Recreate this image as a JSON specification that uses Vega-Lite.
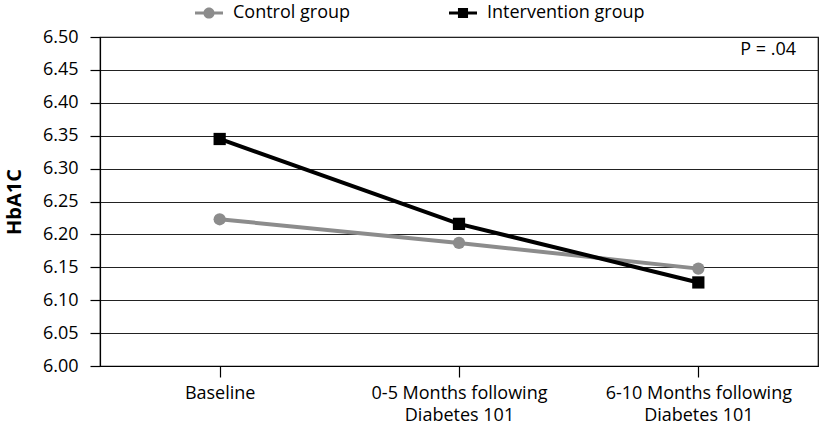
{
  "$schema": "https://vega.github.io/schema/vega-lite/v6.json",
  "autosize": "none",
  "width": 718,
  "height": 329,
  "padding": {"left": 100, "top": 37, "right": 4, "bottom": 60},
  "config": {
    "font": "Open Sans",
    "view": {"stroke": "#000000", "strokeWidth": 1.2},
    "axis": {"labelFont": "Open Sans", "titleFont": "Open Sans", "labelColor": "#000000", "titleColor": "#000000", "domainColor": "#000000", "tickColor": "#000000"}
  },
  "data": {
    "values": [
      {"period": "Baseline", "group": "Control group", "hba1c": 6.223},
      {"period": "0-5 Months following Diabetes 101", "group": "Control group", "hba1c": 6.187},
      {"period": "6-10 Months following Diabetes 101", "group": "Control group", "hba1c": 6.148},
      {"period": "Baseline", "group": "Intervention group", "hba1c": 6.345},
      {"period": "0-5 Months following Diabetes 101", "group": "Intervention group", "hba1c": 6.216},
      {"period": "6-10 Months following Diabetes 101", "group": "Intervention group", "hba1c": 6.127}
    ]
  },
  "encoding": {
    "x": {
      "field": "period", "type": "ordinal",
      "sort": ["Baseline", "0-5 Months following Diabetes 101", "6-10 Months following Diabetes 101"],
      "scale": {"type": "point", "padding": 0.5},
      "axis": {
        "title": null, "labelAngle": 0, "labelFontSize": 18, "labelPadding": 7, "labelLineHeight": 22, "labelLimit": 400,
        "tickSize": 11, "tickWidth": 1.2, "domainWidth": 1.2, "grid": false,
        "labelExpr": "indexof(datum.label, 'Diabetes') > 0 ? [substring(datum.label, 0, indexof(datum.label, ' Diabetes')), 'Diabetes 101'] : datum.label"
      }
    },
    "y": {
      "field": "hba1c", "type": "quantitative",
      "scale": {"domain": [6.0, 6.5], "zero": false, "nice": false},
      "axis": {
        "title": "HbA1C", "titleFontSize": 20, "titleFontWeight": "bold", "titlePadding": 18,
        "values": [6.0, 6.05, 6.1, 6.15, 6.2, 6.25, 6.3, 6.35, 6.4, 6.45, 6.5],
        "format": ".2f", "labelFontSize": 18, "labelPadding": 12, "tickSize": 10, "tickWidth": 1.2, "domainWidth": 1.2,
        "grid": true, "gridColor": "#222222", "gridWidth": 1, "gridOpacity": 1
      }
    }
  },
  "layer": [
    {
      "mark": {"type": "line", "strokeWidth": 4},
      "encoding": {
        "color": {
          "field": "group", "type": "nominal",
          "scale": {"domain": ["Control group", "Intervention group"], "range": ["#8c8c8c", "#000000"]},
          "legend": {
            "title": null, "orient": "none", "legendX": 95, "legendY": -38, "direction": "horizontal",
            "labelFontSize": 18, "labelFont": "Open Sans", "labelColor": "#000000", "labelLimit": 400,
            "symbolSize": 784, "columnPadding": 98, "labelOffset": 10,
            "encode": {
              "symbols": {
                "update": {
                  "shape": {"signal": "datum.value === 'Control group' ? 'M-1,-0.11H-0.3V0.11H-1Z M0.3,-0.11H1V0.11H0.3Z M0,-0.4A0.4,0.4,0,1,1,0,0.4A0.4,0.4,0,1,1,0,-0.4Z' : 'M-1,-0.11H-0.3V0.11H-1Z M0.3,-0.11H1V0.11H0.3Z M-0.36,-0.36H0.36V0.36H-0.36Z'"},
                  "fill": {"signal": "datum.value === 'Control group' ? '#8c8c8c' : '#000000'"},
                  "fillOpacity": {"value": 1},
                  "strokeWidth": {"value": 0}
                }
              }
            }
          }
        }
      }
    },
    {
      "transform": [{"filter": "datum.group === 'Control group'"}],
      "mark": {"type": "point", "shape": "circle", "filled": true, "opacity": 1, "size": 150, "color": "#8c8c8c"},
      "encoding": {}
    },
    {
      "transform": [{"filter": "datum.group === 'Intervention group'"}],
      "mark": {"type": "point", "shape": "square", "filled": true, "opacity": 1, "size": 150, "color": "#000000"},
      "encoding": {}
    },
    {
      "data": {"values": [{"label": "P = .04", "level": 6.48}]},
      "mark": {"type": "text", "align": "right", "baseline": "middle", "fontSize": 18, "font": "Open Sans", "color": "#000000", "dx": -22},
      "encoding": {
        "x": {"value": "width"},
        "y": {"field": "level", "type": "quantitative"},
        "text": {"field": "label"}
      }
    }
  ]
}
